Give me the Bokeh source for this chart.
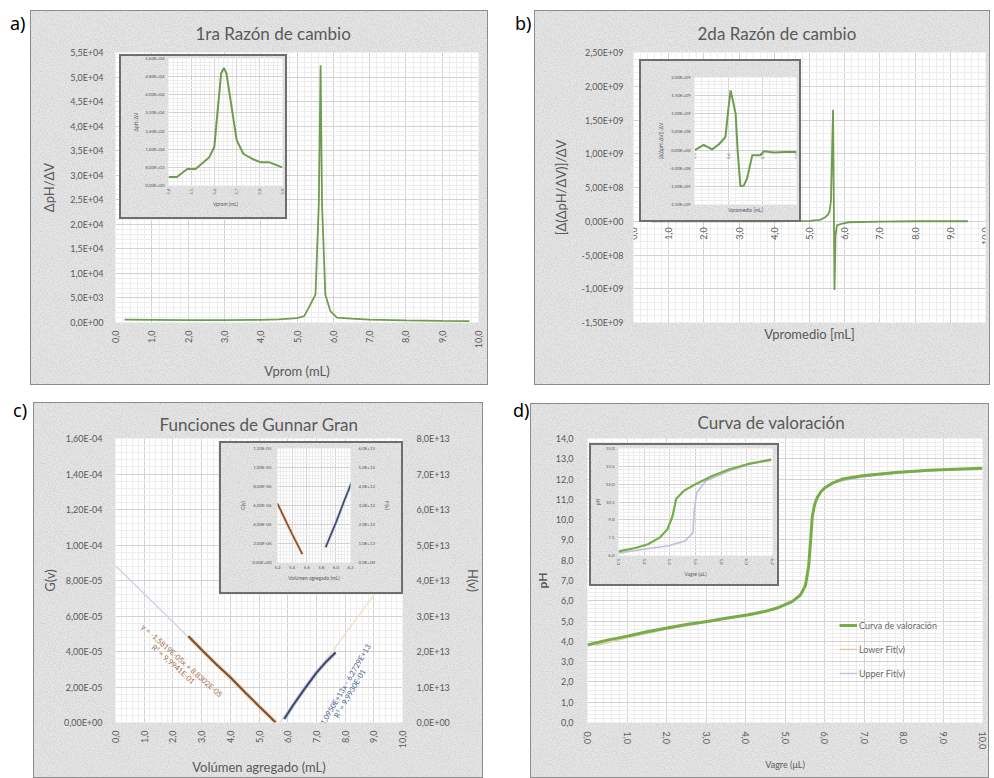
import numpy as np
from math import pi
from bokeh.plotting import figure
from bokeh.models import (GridBox, Div, FixedTicker, LinearAxis, Range1d, Title,
                          Legend, LegendItem, Label)
from bokeh.embed import file_html
from bokeh.resources import INLINE

FONT = "Lato"
TXT = "#595959"
BG = "#e3e3e3"
GRID = "#d2d2d2"
MINOR = "#ededed"
GREEN = "#6f9c4f"

# ---------------- data ----------------
# a) primera razón de cambio (principal)
a_v = [0.25, 1.0, 2.0, 3.0, 4.0, 4.5, 5.0, 5.2, 5.37, 5.51, 5.60, 5.65, 5.69, 5.78, 5.92, 6.1, 6.5, 7.0, 8.0, 9.0, 9.75]
a_d1 = [600, 550, 500, 500, 550, 650, 900, 1300, 3700, 5700, 24000, 52400, 24000, 5700, 2300, 1000, 800, 600, 450, 350, 300]
# a) recuadro
ai_v = [5.400, 5.437, 5.482, 5.519, 5.579, 5.601, 5.616, 5.631, 5.643, 5.654, 5.669, 5.699, 5.728, 5.766, 5.803, 5.840, 5.900]
ai_d1 = [3770, 3770, 7250, 7250, 12500, 17000, 33600, 49500, 51800, 49500, 39700, 20000, 14000, 11800, 10300, 10300, 8000]

# b) segunda razón de cambio (principal)
b_v = [0.5, 2.0, 4.0, 5.0, 5.3, 5.45, 5.53, 5.57, 5.61, 5.64, 5.67, 5.69, 5.71, 5.74, 5.78, 5.9, 6.1, 7.0, 8.0, 9.5]
b_d2 = [0, 0, 0, 5e6, 2e7, 6e7, 1.0e8, 1.5e8, 3.0e8, 1.0e9, 1.65e9, 3e8, -1.02e9, -2e8, -6e7, -4e7, -1.5e7, -5e6, 0, 0]
# b) recuadro
bi_v = [5.501, 5.527, 5.552, 5.572, 5.591, 5.599, 5.606, 5.613, 5.621, 5.627, 5.635, 5.645, 5.655, 5.670, 5.694, 5.704, 5.733, 5.768, 5.800]
bi_d2 = [0, 1.4e8, 2e7, 1.6e8, 3.6e8, 1.08e9, 1.64e9, 1.36e9, 9.9e8, -3e7, -1.0e9, -9.8e8, -7.7e8, -1.4e8, -1.4e8, -3e7, -7e7, -5e7, -5e7]

# c) funciones de Gran
c_gv = [2.54, 3.0, 3.5, 4.0, 4.5, 5.0, 5.3, 5.58]
c_g = [4.86e-5, 4.10e-5, 3.30e-5, 2.55e-5, 1.72e-5, 9.2e-6, 4.5e-6, 0.0]
c_g_trend_v = [0.0, 5.58]
c_g_trend = [8.83e-5, 0.0]
c_hv = [5.88, 6.2, 6.6, 7.0, 7.35, 7.67]
c_h = [1.0e12, 5.0e12, 9.6e12, 1.40e13, 1.72e13, 1.97e13]
c_h_trend_v = [5.73, 9.1]
c_h_trend = [0.0, 3.7e13]
g_eq = ["y = -1,5819E-05x + 8,8302E-05", "R² = 9,9941E-01"]
h_eq = ["y = 1,0950E+13x - 6,2729E+13", "R² = 9,9930E-01"]
# c) recuadro
ci_gv = [5.2, 5.3, 5.4, 5.54]
ci_g = [6.2e-6, 4.6e-6, 3.0e-6, 8.8e-7]
ci_hv = [5.86, 6.0, 6.12, 6.245]
ci_h = [8.0e11, 2.1e12, 3.3e12, 4.5e12]

# d) curva de valoración
d_v = [0.0, 0.5, 1.04, 1.5, 2.05, 2.5, 3.07, 3.5, 4.08, 4.5, 4.84, 5.18, 5.39, 5.52, 5.60, 5.65, 5.69, 5.75, 5.82, 5.92, 6.03, 6.2, 6.45, 6.96, 7.8, 8.65, 10.0]
d_ph = [3.82, 4.06, 4.27, 4.47, 4.67, 4.83, 4.99, 5.14, 5.31, 5.48, 5.67, 5.96, 6.28, 6.76, 7.73, 9.02, 10.14, 10.75, 11.1, 11.4, 11.6, 11.8, 12.0, 12.16, 12.32, 12.43, 12.53]
lf_v = [0.2, 1.0, 2.0, 3.0, 4.0, 4.8, 5.2, 5.45, 5.58, 5.64]
lf_ph = [3.80, 4.18, 4.60, 4.94, 5.26, 5.60, 5.95, 6.50, 7.40, 8.60]
uf_v = [5.70, 5.76, 5.85, 6.0, 6.3, 7.0, 8.0, 9.0, 10.0]
uf_ph = [10.4, 10.9, 11.25, 11.55, 11.85, 12.12, 12.33, 12.45, 12.54]
# d) recuadro
di_v = [5.00, 5.13, 5.23, 5.32, 5.38, 5.42, 5.45, 5.51, 5.60, 5.73, 5.86, 6.01, 6.19]
di_ph = [6.35, 6.63, 6.95, 7.50, 8.18, 9.27, 10.77, 11.45, 12.0, 12.68, 13.23, 13.70, 14.05]
dj_v = [5.00, 5.21, 5.39, 5.52, 5.58, 5.59, 5.61, 5.68, 5.86, 6.01, 6.19]
dj_ph = [6.20, 6.55, 6.82, 7.23, 7.90, 9.80, 11.30, 12.27, 13.10, 13.64, 14.13]

# ---------------- ticks ----------------
x10_ticks = [0, 1, 2, 3, 4, 5, 6, 7, 8, 9, 10]
x10_labels = ["0,0", "1,0", "2,0", "3,0", "4,0", "5,0", "6,0", "7,0", "8,0", "9,0", "10,0"]
a_yticks = [0, 5000, 10000, 15000, 20000, 25000, 30000, 35000, 40000, 45000, 50000, 55000]
a_ylabels = ["0,0E+00", "5,0E+03", "1,0E+04", "1,5E+04", "2,0E+04", "2,5E+04", "3,0E+04",
             "3,5E+04", "4,0E+04", "4,5E+04", "5,0E+04", "5,5E+04"]
ai_xticks = [5.4, 5.5, 5.6, 5.7, 5.8, 5.9]
ai_xlabels = ["5,4", "5,5", "5,6", "5,7", "5,8", "5,9"]
ai_yticks = [0, 8000, 16000, 24000, 32000, 40000, 48000, 56000]
ai_ylabels = ["0,00E+00", "8,00E+03", "1,60E+04", "2,40E+04", "3,20E+04", "4,00E+04", "4,80E+04", "5,60E+04"]
b_yticks = [-1.5e9, -1.0e9, -5.0e8, 0, 5.0e8, 1.0e9, 1.5e9, 2.0e9, 2.5e9]
b_ylabels = ["-1,50E+09", "-1,00E+09", "-5,00E+08", "0,00E+00", "5,00E+08", "1,00E+09",
             "1,50E+09", "2,00E+09", "2,50E+09"]
bi_xticks = [5.5, 5.6, 5.7, 5.8]
bi_xlabels = ["5,5", "5,6", "5,7", "5,8"]
bi_yticks = [-1.5e9, -1.0e9, -5.0e8, 0, 5.0e8, 1.0e9, 1.5e9, 2.0e9]
bi_ylabels = ["-1,50E+09", "-1,00E+09", "-5,00E+08", "0,00E+00", "5,00E+08", "1,00E+09", "1,50E+09", "2,00E+09"]
c_yticks = [0, 2e-05, 4e-05, 6e-05, 8e-05, 1e-04, 1.2e-04, 1.4e-04, 1.6e-04]
c_ylabels = ["0,00E+00", "2,00E-05", "4,00E-05", "6,00E-05", "8,00E-05", "1,00E-04", "1,20E-04", "1,40E-04", "1,60E-04"]
c_rticks = [0, 1e13, 2e13, 3e13, 4e13, 5e13, 6e13, 7e13, 8e13]
c_rlabels = ["0,0E+00", "1,0E+13", "2,0E+13", "3,0E+13", "4,0E+13", "5,0E+13", "6,0E+13", "7,0E+13", "8,0E+13"]
ci_xticks = [5.2, 5.4, 5.6, 5.8, 6.0, 6.2]
ci_xlabels = ["5,2", "5,4", "5,6", "5,8", "6,0", "6,2"]
ci_yticks = [0, 2e-06, 4e-06, 6e-06, 8e-06, 1e-05, 1.2e-05]
ci_ylabels = ["0,00E+00", "2,00E-06", "4,00E-06", "6,00E-06", "8,00E-06", "1,00E-05", "1,20E-05"]
ci_rticks = [0, 1e12, 2e12, 3e12, 4e12, 5e12, 6e12]
ci_rlabels = ["0,0E+00", "1,0E+12", "2,0E+12", "3,0E+12", "4,0E+12", "5,0E+12", "6,0E+12"]
d_yticks = list(range(0, 15))
d_ylabels = ["0,0", "1,0", "2,0", "3,0", "4,0", "5,0", "6,0", "7,0", "8,0", "9,0", "10,0",
             "11,0", "12,0", "13,0", "14,0"]
di_xticks = [5.0, 5.2, 5.4, 5.6, 5.8, 6.0, 6.2]
di_xlabels = ["5,0", "5,2", "5,4", "5,6", "5,8", "6,0", "6,2"]
di_yticks = [6.0, 7.5, 9.0, 10.5, 12.0, 13.5, 15.0]
di_ylabels = ["6,0", "7,5", "9,0", "10,5", "12,0", "13,5", "15,0"]

# paper-like texture for the chart backgrounds (CSS only)
NOISE = ("url(\"data:image/svg+xml;utf8,<svg xmlns='http://www.w3.org/2000/svg' width='160' height='160'>"
         "<filter id='n'><feTurbulence type='fractalNoise' baseFrequency='0.85' numOctaves='2' "
         "stitchTiles='stitch'/><feColorMatrix type='matrix' values='0 0 0 0 0.45 0 0 0 0 0.45 "
         "0 0 0 0 0.45 0.9 0 0 0 -0.33'/></filter>"
         "<rect width='100%' height='100%' fill='%23e6e6e6'/>"
         "<rect width='100%' height='100%' filter='url(%23n)'/></svg>\")")


def minors(lo, hi, step):
    return [float(v) for v in np.round(np.arange(lo, hi + step * 0.5, step), 12)]


def make_fig(w, h, xr, yr, bl, br, bt, bb, title=None, border=1, bcol="#8c8c8c"):
    p = figure(width=w, height=h, x_range=Range1d(*xr), y_range=Range1d(*yr),
               output_backend="svg", toolbar_location=None, title=title,
               min_border_left=bl, min_border_right=br, min_border_top=bt, min_border_bottom=bb)
    p.background_fill_color = "white"
    p.border_fill_color = BG
    p.border_fill_alpha = 0
    p.outline_line_color = None
    p.styles = {"outline": f"{border}px solid {bcol}", "outline-offset": f"-{border}px",
                "background-color": BG, "background-image": NOISE}
    for g in (p.xgrid[0], p.ygrid[0]):
        g.grid_line_color = GRID
        g.minor_grid_line_color = MINOR
    return p


def style_axis(ax, ticks, labels, minor, fs, standoff, orient=None, label=None, lfs=12,
               lstandoff=5, bold=False):
    ax.ticker = FixedTicker(ticks=ticks, minor_ticks=minor)
    ax.major_label_overrides = dict(zip(ticks, labels))
    ax.major_label_text_font = FONT
    ax.major_label_text_font_size = f"{fs}px"
    ax.major_label_text_color = TXT
    ax.major_label_standoff = standoff
    ax.axis_line_color = None
    ax.major_tick_line_color = None
    ax.minor_tick_line_color = None
    ax.major_tick_out = 0
    ax.major_tick_in = 0
    ax.minor_tick_out = 0
    ax.minor_tick_in = 0
    if orient is not None:
        ax.major_label_orientation = orient
    if label:
        ax.axis_label = label
        ax.axis_label_text_font = FONT
        ax.axis_label_text_font_size = f"{lfs}px"
        ax.axis_label_text_color = TXT
        ax.axis_label_text_font_style = "bold" if bold else "normal"
        ax.axis_label_standoff = lstandoff


def set_grid(p):
    p.xgrid[0].ticker = p.xaxis[0].ticker
    p.ygrid[0].ticker = p.yaxis[0].ticker


def set_title(p, fs, offset, standoff):
    p.title.align = "left"
    p.title.offset = offset
    p.title.standoff = standoff
    p.title.text_font = FONT
    p.title.text_font_size = f"{fs}px"
    p.title.text_color = TXT
    p.title.text_font_style = "normal"


def inset_fig(w, h, xr, yr, bl, br, bt, bb):
    return make_fig(w, h, xr, yr, bl, br, bt, bb, border=2, bcol="#6e6e6e")


# ---------------- a) ----------------
pa = make_fig(458, 375, (0, 10), (0, 55000), 85, 10, 38, 63, title="1ra Razón de cambio")
set_title(pa, 17, 80, 17)
style_axis(pa.xaxis[0], x10_ticks, x10_labels, minors(0, 10, 0.2), 9, 8, pi / 2,
           "Vprom (mL)", 13, 12)
style_axis(pa.yaxis[0], a_yticks, a_ylabels, minors(0, 55000, 1000), 9, 12, None,
           "ΔpH/ΔV", 13, 10)
set_grid(pa)
pa.line(a_v, a_d1, line_color=GREEN, line_width=1.8)

pai = inset_fig(168, 165, (5.4, 5.9), (0, 56000), 49, 5, 4, 34)
style_axis(pai.xaxis[0], ai_xticks, ai_xlabels, minors(5.4, 5.9, 0.02), 4.5, 3, pi / 2,
           "Vprom (mL)", 5, 3)
style_axis(pai.yaxis[0], ai_yticks, ai_ylabels, minors(0, 56000, 1600), 4.5, 4, None,
           "ΔpH/ΔV", 5, 3)
set_grid(pai)
pai.line(ai_v, ai_d1, line_color=GREEN, line_width=2)

# ---------------- b) ----------------
pb = make_fig(456, 375, (0, 10), (-1.5e9, 2.5e9), 99, 5, 42, 42, title="2da Razón de cambio")
set_title(pb, 17, 64, 17)
style_axis(pb.xaxis[0], x10_ticks, x10_labels, minors(0, 10, 0.2), 9, 6, pi / 2)
pb.xaxis[0].fixed_location = 0
style_axis(pb.yaxis[0], b_yticks, b_ylabels, minors(-1.5e9, 2.5e9, 1e8), 9, 10, None,
           "[Δ(ΔpH/ΔV)]/ΔV", 13, 10)
set_grid(pb)
pb.add_layout(Title(text="Vpromedio [mL]", align="center", text_font=FONT, text_font_size="13px",
                    text_color=TXT, text_font_style="normal", standoff=2), "below")
pb.line(b_v, b_d2, line_color=GREEN, line_width=1.8)

pbi = inset_fig(162, 163, (5.5, 5.8), (-1.5e9, 2.0e9), 55, 5, 18, 18)
style_axis(pbi.xaxis[0], bi_xticks, bi_xlabels, minors(5.5, 5.8, 0.02), 4.5, 3, pi / 2)
pbi.xaxis[0].fixed_location = 0
style_axis(pbi.yaxis[0], bi_yticks, bi_ylabels, minors(-1.5e9, 2.0e9, 1e8), 4.5, 4, None,
           "[Δ(ΔpH/ΔV)]/ΔV", 5, 3)
set_grid(pbi)
pbi.add_layout(Title(text="Vpromedio [mL]", align="center", text_font=FONT, text_font_size="5px",
                     text_color=TXT, text_font_style="normal", standoff=1), "below")
pbi.line(bi_v, bi_d2, line_color=GREEN, line_width=2)

# ---------------- c) ----------------
pc = make_fig(450, 376, (0, 10), (0, 1.6e-4), 82, 79, 36, 52, title="Funciones de Gunnar Gran")
set_title(pc, 17, 44, 7)
pc.extra_y_ranges = {"H": Range1d(0, 8e13)}
style_axis(pc.xaxis[0], x10_ticks, x10_labels, minors(0, 10, 0.2), 9, 8, pi / 2,
           "Volúmen agregado (mL)", 13, 8)
style_axis(pc.yaxis[0], c_yticks, c_ylabels, minors(0, 1.6e-4, 4e-6), 9, 13, None,
           "G(v)", 13, 3)
rax = LinearAxis(y_range_name="H")
pc.add_layout(rax, "right")
style_axis(rax, c_rticks, c_rlabels, [], 9, 14, None, "H(v)", 13, 12)
set_grid(pc)
pc.line(c_g_trend_v, c_g_trend, line_color="#d3d3e4", line_width=1.5)
pc.line(c_h_trend_v, c_h_trend, line_color="#f2e0cc", line_width=1.5, y_range_name="H")
pc.line(c_gv, c_g, line_color="#f2b27a", line_width=4, line_alpha=0.6)
pc.line(c_gv, c_g, line_color="#7a4f33", line_width=2)
pc.line(c_hv, c_h, line_color="#aab2d8", line_width=4, line_alpha=0.6, y_range_name="H")
pc.line(c_hv, c_h, line_color="#3e4766", line_width=2, y_range_name="H")
for txt, x, y in zip(g_eq, [2.31, 2.01], [3.47e-5, 3.27e-5]):
    pc.add_layout(Label(x=x, y=y, text=txt, angle=-0.726, text_align="center",
                        text_baseline="middle", text_font=FONT, text_font_size="7.5px",
                        text_color="#a06a3e"))
for txt, x, y in zip(h_eq, [7.92, 8.17], [1.86e-5, 1.63e-5]):
    pc.add_layout(Label(x=x, y=y, text=txt, angle=1.04, text_align="center",
                        text_baseline="middle", text_font=FONT, text_font_size="7.5px",
                        text_color="#4e6594"))

pci = inset_fig(184, 153, (5.2, 6.2), (0, 1.2e-5), 58, 53, 7, 32)
pci.extra_y_ranges = {"H": Range1d(0, 6e12)}
style_axis(pci.xaxis[0], ci_xticks, ci_xlabels, minors(5.2, 6.2, 0.04), 4.5, 3, None,
           "Volúmen agregado (mL)", 5, 3)
style_axis(pci.yaxis[0], ci_yticks, ci_ylabels, minors(0, 1.2e-5, 4e-7), 4.5, 6, None,
           "G(v)", 5, 3)
rax2 = LinearAxis(y_range_name="H")
pci.add_layout(rax2, "right")
style_axis(rax2, ci_rticks, ci_rlabels, [], 4.5, 8, None, "H(v)", 5, 6)
set_grid(pci)
pci.line(ci_gv, ci_g, line_color="#f2b27a", line_width=3, line_alpha=0.6)
pci.line(ci_gv, ci_g, line_color="#7a4f33", line_width=1.6)
pci.line(ci_hv, ci_h, line_color="#aab2d8", line_width=3, line_alpha=0.6, y_range_name="H")
pci.line(ci_hv, ci_h, line_color="#3e4766", line_width=1.6, y_range_name="H")

# ---------------- d) ----------------
pd_ = make_fig(459, 375, (0, 10), (0, 14), 57, 7, 35, 50, title="Curva de valoración")
set_title(pd_, 17, 110, 12)
style_axis(pd_.xaxis[0], x10_ticks, x10_labels, minors(0, 10, 0.2), 9, 9, -pi / 2,
           "Vagre (μL)", 9, 7)
style_axis(pd_.yaxis[0], d_yticks, d_ylabels, minors(0, 14, 0.2), 9, 14, None,
           "pH", 12, 3, bold=True)
set_grid(pd_)
r_lf = pd_.line(lf_v, lf_ph, line_color="#e3cba9", line_width=1.5)
r_uf = pd_.line(uf_v, uf_ph, line_color="#c9c1de", line_width=1.5)
r_cv = pd_.line(d_v, d_ph, line_color="#76ad48", line_width=3)
leg = Legend(items=[LegendItem(label="Curva de valoración", renderers=[r_cv]),
                    LegendItem(label="Lower Fit(v)", renderers=[r_lf]),
                    LegendItem(label="Upper Fit(v)", renderers=[r_uf])],
             location=(252, 42))
leg.background_fill_alpha = 0
leg.border_line_color = None
leg.label_text_font = FONT
leg.label_text_font_size = "9px"
leg.label_text_color = "#6a6a6a"
leg.glyph_width = 18
leg.glyph_height = 14
leg.label_height = 14
leg.spacing = 10
leg.padding = 0
leg.margin = 0
leg.label_standoff = 2
pd_.add_layout(leg)

pdi = inset_fig(190, 143, (5.0, 6.2), (6.0, 15.0), 29, 7, 5, 31)
style_axis(pdi.xaxis[0], di_xticks, di_xlabels, minors(5.0, 6.2, 0.04), 4.5, 3, -pi / 2,
           "Vagre (μL)", 5, 3)
style_axis(pdi.yaxis[0], di_yticks, di_ylabels, minors(6.0, 15.0, 0.3), 4.5, 4, None,
           "pH", 5, 2)
set_grid(pdi)
pdi.line(dj_v, dj_ph, line_color="#c4bcd9", line_width=1.6)
pdi.line(di_v, di_ph, line_color="#76ad48", line_width=2.2)


# ---------------- layout ----------------
def label_div(t, w, h, left):
    return Div(text=f'<div style="font-family:\'Noto Sans\',sans-serif;font-size:18px;'
                    f'color:#000;margin-left:{left}px;margin-top:2px;line-height:1.2">{t}</div>',
               width=w, height=h)


items = [
    (label_div("a)", 30, 32, 5), 0, 6, 30, 32),
    (pa, 30, 10, 458, 375),
    (pai, 119, 54, 168, 165),
    (label_div("b)", 34, 32, 10), 500, 6, 34, 32),
    (pb, 534, 10, 456, 375),
    (pbi, 639, 59, 162, 163),
    (label_div("c)", 33, 32, 8), 0, 393, 33, 32),
    (pc, 33, 402, 450, 376),
    (pci, 219, 441, 184, 153),
    (label_div("d)", 33, 32, 11), 497, 393, 33, 32),
    (pd_, 530, 403, 459, 375),
    (pdi, 589, 443, 190, 143),
]

xs = sorted(set([0, 994] + [it[1] for it in items] + [it[1] + it[3] for it in items]))
ys = sorted(set([0, 778] + [it[2] for it in items] + [it[2] + it[4] for it in items]))
children = []
for el, l, t, w, h in items:
    c0, c1 = xs.index(l), xs.index(l + w)
    r0, r1 = ys.index(t), ys.index(t + h)
    children.append((el, r0, c0, r1 - r0, c1 - c0))

grid = GridBox(children=children,
               cols=[f"{b - a}px" for a, b in zip(xs, xs[1:])],
               rows=[f"{b - a}px" for a, b in zip(ys, ys[1:])],
               spacing=0)

open("out.html", "w").write(file_html(grid, INLINE))
